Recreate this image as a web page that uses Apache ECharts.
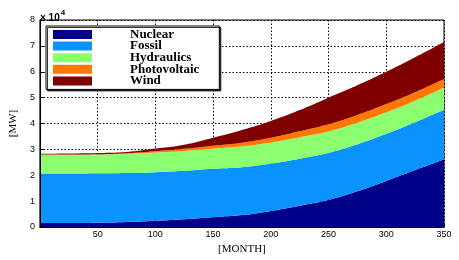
<!DOCTYPE html>
<html>
<head>
<meta charset="utf-8">
<script src="https://cdn.jsdelivr.net/npm/echarts@6/dist/echarts.min.js"></script>
<style>html,body{margin:0;padding:0;background:#fff}#c{width:459px;height:260px}</style>
</head>
<body>
<div id="c"></div>
<script>
// values in units of 10^4 MW (layer thicknesses, stacked)
var months       = [1, 25, 50, 75, 100, 125, 150, 175, 200, 225, 250, 275, 300, 325, 350];
var nuclear      = [0.15, 0.15, 0.16, 0.19, 0.24, 0.30, 0.38, 0.46, 0.62, 0.82, 1.05, 1.38, 1.78, 2.20, 2.62];
var fossil       = [1.92, 1.92, 1.92, 1.90, 1.88, 1.87, 1.87, 1.85, 1.83, 1.82, 1.82, 1.82, 1.82, 1.85, 1.91];
var hydraulics   = [0.72, 0.72, 0.72, 0.74, 0.76, 0.77, 0.78, 0.81, 0.82, 0.83, 0.83, 0.83, 0.83, 0.83, 0.86];
var photovoltaic = [0.01, 0.01, 0.01, 0.02, 0.05, 0.08, 0.11, 0.14, 0.18, 0.23, 0.27, 0.30, 0.32, 0.33, 0.33];
var wind         = [0.03, 0.04, 0.05, 0.05, 0.10, 0.16, 0.31, 0.49, 0.65, 0.82, 1.03, 1.15, 1.25, 1.35, 1.43];
var seriesNames  = ['Nuclear', 'Fossil', 'Hydraulics', 'Photovoltaic', 'Wind'];
var seriesColors = ['#000088', '#0A92FF', '#8CFF70', '#FF7800', '#800000'];
var xTicks = [50, 100, 150, 200, 250, 300, 350];
var yTicks = [0, 1, 2, 3, 4, 5, 6, 7, 8];

var values = [nuclear, fossil, hydraulics, photovoltaic, wind];
// value first so that the stack is applied on the y dimension
function pairs(arr){ return months.map(function(m,i){ return [arr[i], m]; }); }

var chart = echarts.init(document.getElementById('c'), null, {renderer:'canvas'});
chart.setOption({
  animation: false,
  title: {
    text: '{a|× 10}{b|4}',
    left: 35, top: 2,
    textStyle: { rich: {
      a: { fontFamily: 'Liberation Sans', fontSize: 10, color: '#000', padding:[6,0,0,0] },
      b: { fontFamily: 'Liberation Sans', fontSize: 8, color: '#000', padding:[0,0,4,1] }
    }}
  },
  legend: {
    orient: 'vertical', left: 46, top: 26,
    data: seriesNames,
    icon: 'rect', itemWidth: 39, itemHeight: 9, itemGap: -1.4,
    backgroundColor: '#fff', borderColor: '#000', borderWidth: 1,
    padding: [2, 20, 2, 7],
    shadowColor: 'rgba(0,0,0,0.8)', shadowOffsetX: 1.5, shadowOffsetY: 1.5, shadowBlur: 0,
    textStyle: { fontFamily: 'Liberation Serif', fontWeight: 'bold', fontSize: 13, color: '#000', padding: [0,0,0,33] }
  },
  grid: { left: 37, right: 15, top: 20, bottom: 33, show: true, borderColor: '#000', borderWidth: 1, backgroundColor: 'transparent' },
  xAxis: {
    type: 'value', min: 0, max: 350, interval: 50,
    name: '[MONTH]', nameLocation: 'middle', nameGap: 16,
    nameTextStyle: { fontFamily: 'Liberation Serif', fontSize: 11, color: '#000' },
    axisLine: { lineStyle: { color: '#000' } },
    axisTick: { inside: true, length: 4, lineStyle: { color: '#000' } },
    axisLabel: { fontFamily: 'Liberation Sans', fontSize: 9, color: '#000', margin: 3,
      formatter: function(v){ return xTicks.indexOf(v) >= 0 ? String(v) : ''; } },
    splitLine: { show: true, lineStyle: { color: '#000', type: [1.5, 2], width: 1 } }
  },
  yAxis: {
    type: 'value', min: 0, max: 8, interval: 1,
    name: '[MW]', nameLocation: 'middle', nameGap: 20,
    nameTextStyle: { fontFamily: 'Liberation Serif', fontSize: 11, color: '#000' },
    axisLine: { show: true, lineStyle: { color: '#000' } },
    axisTick: { show: true, inside: true, length: 4, lineStyle: { color: '#000' } },
    axisLabel: { fontFamily: 'Liberation Sans', fontSize: 9, color: '#000', margin: 5,
      formatter: function(v){ return yTicks.indexOf(v) >= 0 ? String(v) : ''; } },
    splitLine: { show: true, lineStyle: { color: '#000', type: [1.5, 2], width: 1 } }
  },
  series: seriesNames.map(function(n, i){
    return {
      name: n, type: 'line', stack: 'total', smooth: true, symbol: 'none',
      encode: { x: 1, y: 0 },
      data: pairs(values[i]),
      itemStyle: { color: seriesColors[i] },
      lineStyle: { width: 0, color: seriesColors[i] },
      areaStyle: { color: seriesColors[i], opacity: 1 }
    };
  })
});
</script>
</body>
</html>
